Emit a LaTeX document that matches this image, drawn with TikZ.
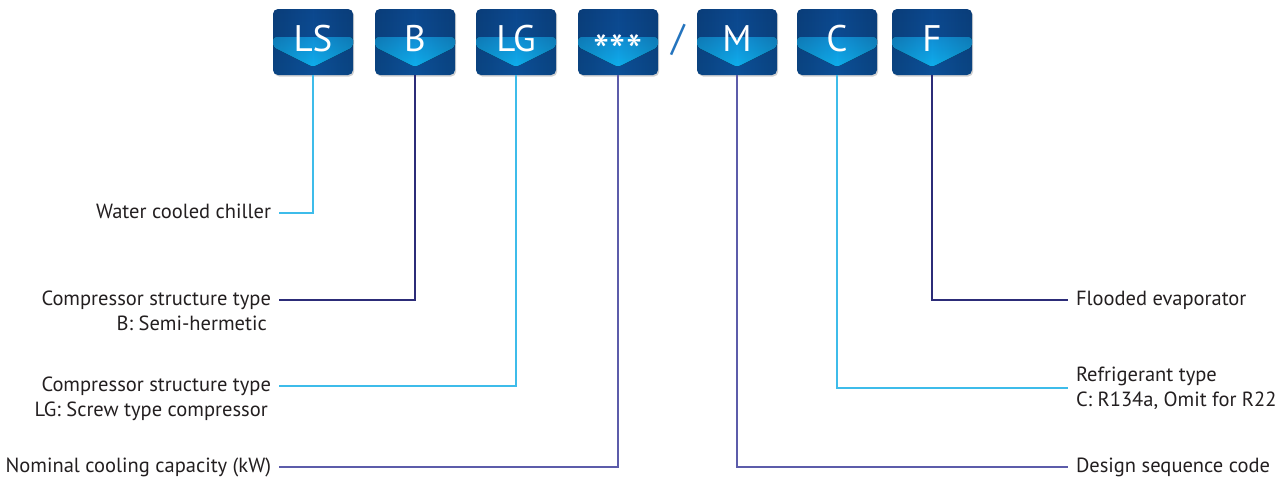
\documentclass[tikz,border=0pt]{standalone}
\usepackage{fontspec}
\setmainfont{PT Sans}
\usetikzlibrary{shadows,fadings}
\definecolor{boxtop}{RGB}{12,72,142}
\definecolor{boxmid}{RGB}{20,112,190}
\definecolor{boxbot}{RGB}{12,80,152}
\definecolor{chevtop}{RGB}{20,114,192}
\definecolor{chevbot}{RGB}{14,182,242}
\definecolor{cyanline}{RGB}{62,188,234}
\definecolor{navyline}{RGB}{44,44,120}
\definecolor{purpline}{RGB}{92,92,170}
\definecolor{txtcol}{RGB}{35,31,32}
\definecolor{slashcol}{RGB}{36,116,190}
\tikzfading[name=edgefade, left color=transparent!85, right color=transparent!85, middle color=transparent!100]
\begin{document}
\begin{tikzpicture}[x=1pt,y=-1pt,
  codebox/.style={draw=none, rounded corners=5pt, minimum width=80pt, minimum height=66pt, inner sep=0pt,
    top color=boxtop, middle color=boxmid, bottom color=boxbot,
    drop shadow={shadow xshift=1.2pt, shadow yshift=-1.5pt, opacity=0.3, fill=black!60},
    path picture={
      \fill[top color=chevtop, bottom color=chevbot, rounded corners=3pt]
      ([yshift=5pt]path picture bounding box.west) -- ([yshift=5pt]path picture bounding box.east)
      -- ([yshift=-5pt]path picture bounding box.east) -- ([yshift=-25pt]path picture bounding box.center)
      -- ([yshift=-5pt]path picture bounding box.west) -- cycle;
      \fill[black, path fading=edgefade, rounded corners=0pt] (path picture bounding box.south west) rectangle (path picture bounding box.north east);}},
  codelabel/.style={text=white, font=\fontsize{37}{37}\selectfont, inner sep=0pt},
  conn/.style={line width=1.6pt},
  txtbase/.style={text=txtcol, font=\fontsize{20.5}{25}\selectfont, inner sep=0pt},
  lefttext/.style={txtbase, anchor=east, outer xsep=8pt, text height=13pt, text depth=2.8pt},
  lefttext2/.style={txtbase, anchor=east, text height=13pt, text depth=2.8pt},
  righttext/.style={txtbase, anchor=west, outer xsep=8pt, text height=13pt, text depth=2.8pt},
  righttext2/.style={txtbase, anchor=west, outer xsep=8pt, align=left}
]
\useasboundingbox (0,0) rectangle (1277,491);
\fill[white] (0,0) rectangle (1277,491);
% code boxes
\node[codebox] (ls) at (313,42) {};
\node[codebox] (b) at (415,42) {};
\node[codebox] (lg) at (516,42) {};
\node[codebox] (st) at (618,42) {};
\node[codebox] (m) at (737,42) {};
\node[codebox] (c) at (837,42) {};
\node[codebox] (f) at (932,42) {};
\node[codelabel] (lsl) at ([yshift=3.5pt]ls.center) {LS};
\node[codelabel] (bl) at ([yshift=3.5pt]b.center) {B};
\node[codelabel] (lgl) at ([yshift=3.5pt]lg.center) {LG};
\node[codelabel, font=\fontsize{46}{46}\selectfont] (stl) at ([yshift=-9pt]st.center) {***};
\node[codelabel] (ml) at ([yshift=3.5pt]m.center) {M};
\node[codelabel] (cl) at ([yshift=3.5pt]c.center) {C};
\node[codelabel] (fl) at ([yshift=3.5pt]f.center) {F};
\node[codelabel, text=slashcol] (sl) at (678,40) {/};
% texts
\node[lefttext] (t1) at (279,213) {Water cooled chiller};
\node[lefttext] (t2) at (279,300) {Compressor structure type};
\node[lefttext2] (t2b) at (267,325) {B: Semi-hermetic};
\node[lefttext] (t3) at (279,386) {Compressor structure type};
\node[lefttext2] (t3b) at (268,411) {LG: Screw type compressor};
\node[lefttext] (t4) at (279,467) {Nominal cooling capacity (kW)};
\node[righttext] (t5) at (1068,300) {Flooded evaporator};
\node[righttext2] (t6) at (1068,388) {Refrigerant type\\C: R134a, Omit for R22};
\node[righttext] (t7) at (1068,467) {Design sequence code};
% connectors
\draw[conn, cyanline] (ls.south) |- (t1.east);
\draw[conn, navyline] (b.south) |- (t2.east);
\draw[conn, cyanline] (lg.south) |- (t3.east);
\draw[conn, purpline] (st.south) |- (t4.east);
\draw[conn, purpline] (m.south) |- (t7.west);
\draw[conn, cyanline] (c.south) |- (t6.west);
\draw[conn, navyline] (f.south) |- (t5.west);
\end{tikzpicture}
\end{document}
